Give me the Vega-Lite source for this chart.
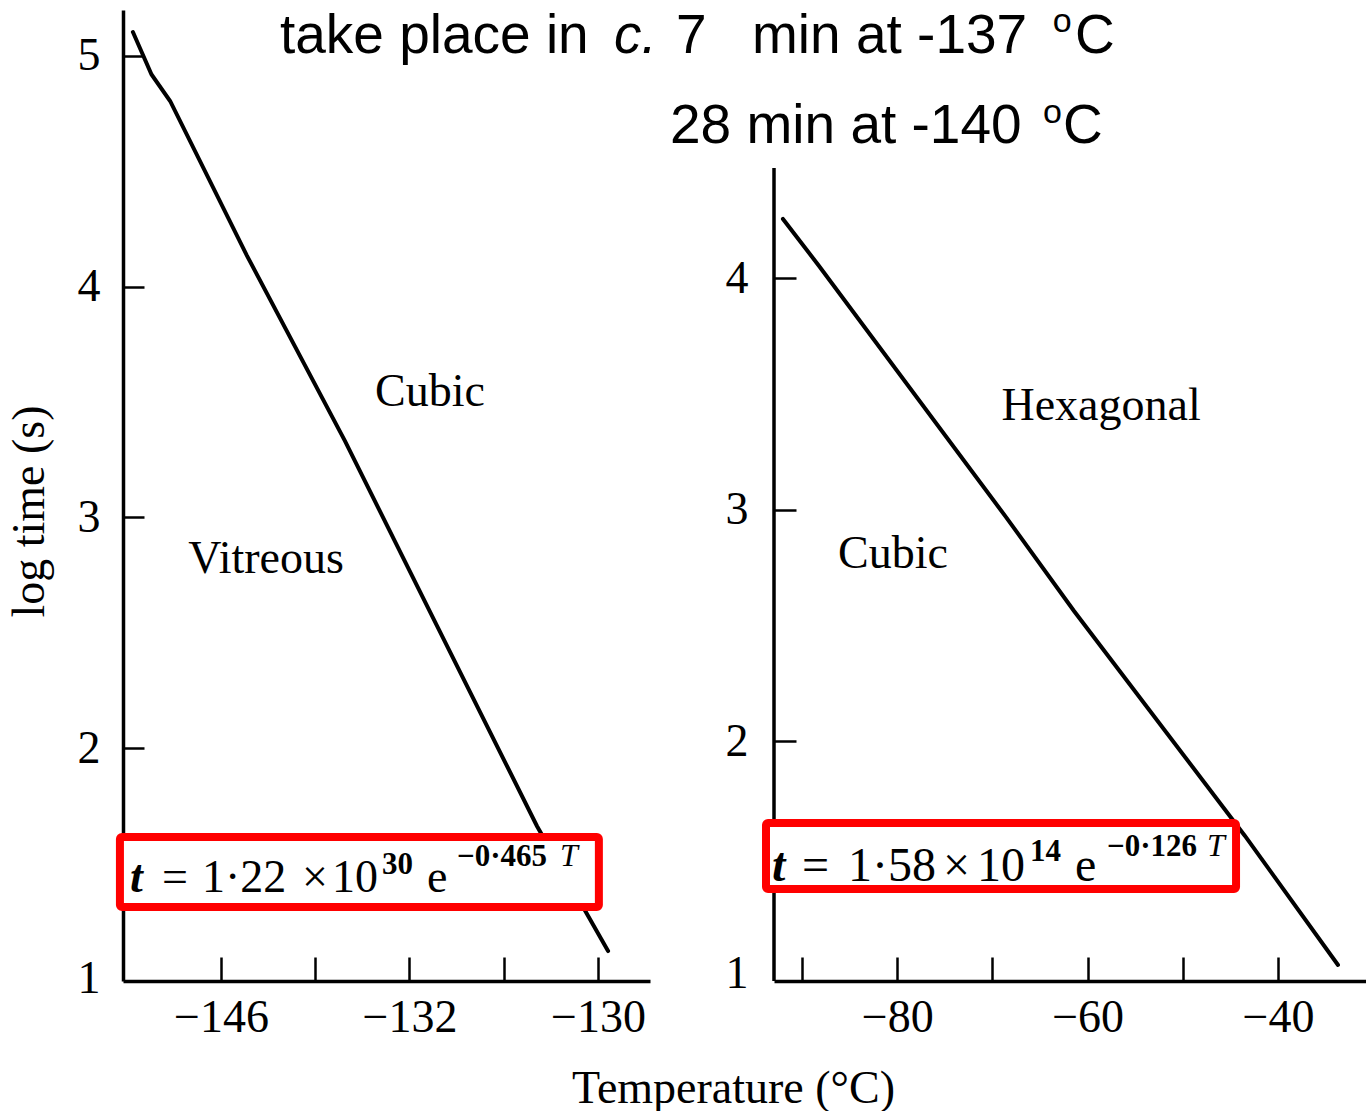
{
  "$schema": "https://vega.github.io/schema/vega-lite/v6.json",
  "background": "white",
  "padding": {"left": 6, "top": 4, "right": 0, "bottom": 0},
  "bounds": "flush",
  "spacing": 124,
  "config": {
    "view": {"stroke": null},
    "axis": {
      "grid": false,
      "labelFont": "Liberation Serif",
      "labelFontSize": 46,
      "labelColor": "black",
      "labelFlush": false,
      "labelOverlap": false,
      "domainColor": "black",
      "domainWidth": 3.5,
      "tickColor": "black",
      "tickWidth": 2.5,
      "titleFont": "Liberation Serif",
      "titleFontSize": 46,
      "titleFontWeight": "normal",
      "titleColor": "black"
    }
  },
  "datasets": {
    "leftLine": [
      {"T": -149.74, "v": 5.104},
      {"T": -148.95, "v": 4.92},
      {"T": -148.16, "v": 4.805},
      {"T": -144.90, "v": 4.135},
      {"T": -140.74, "v": 3.332},
      {"T": -136.83, "v": 2.530},
      {"T": -132.59, "v": 1.663},
      {"T": -129.57, "v": 1.121}
    ],
    "rightLine": [
      {"T": -92.0, "v": 4.255},
      {"T": -88.21, "v": 4.052},
      {"T": -68.57, "v": 2.968},
      {"T": -61.43, "v": 2.563},
      {"T": -43.47, "v": 1.592},
      {"T": -33.70, "v": 1.035}
    ],
    "leftBox": [{"x1": -150.29, "x2": -129.96, "y1": 1.312, "y2": 1.615}],
    "rightBox": [{"x1": -93.78, "x2": -44.41, "y1": 1.363, "y2": 1.648}],
    "leftRegions": [
      {"T": -137.13, "v": 3.483, "label": "Cubic"},
      {"T": -144.09, "v": 2.760, "label": "Vitreous"}
    ],
    "rightRegions": [
      {"T": -58.59, "v": 3.387, "label": "Hexagonal"},
      {"T": -80.44, "v": 2.748, "label": "Cubic"}
    ],
    "leftFormula": [
      {"T": -148.50, "v": 1.378, "label": "="},
      {"T": -146.81, "v": 1.378, "label": "1·22"},
      {"T": -142.56, "v": 1.378, "label": "×"},
      {"T": -141.29, "v": 1.378, "label": "10"},
      {"T": -137.26, "v": 1.378, "label": "e"}
    ],
    "leftFormulaItalic": [{"T": -149.86, "v": 1.378, "label": "t"}],
    "leftFormulaSup": [
      {"T": -139.17, "v": 1.455, "label": "30"},
      {"T": -135.98, "v": 1.490, "label": "−0·465"}
    ],
    "leftFormulaSupItalic": [{"T": -131.61, "v": 1.490, "label": "T"}],
    "rightFormula": [
      {"T": -90.0, "v": 1.397, "label": "="},
      {"T": -85.17, "v": 1.397, "label": "1·58"},
      {"T": -75.19, "v": 1.397, "label": "×"},
      {"T": -71.62, "v": 1.397, "label": "10"},
      {"T": -61.32, "v": 1.397, "label": "e"}
    ],
    "rightFormulaItalic": [{"T": -93.15, "v": 1.397, "label": "t"}],
    "rightFormulaSup": [
      {"T": -66.05, "v": 1.484, "label": "14"},
      {"T": -57.96, "v": 1.505, "label": "−0·126"}
    ],
    "rightFormulaSupItalic": [{"T": -47.46, "v": 1.505, "label": "T"}],
    "topText": [
      {"T": -143.50, "v": 5.013, "label": "take place in"},
      {"T": -126.69, "v": 5.013, "label": "7"},
      {"T": -123.46, "v": 5.013, "label": "min at -137"},
      {"T": -109.75, "v": 5.013, "label": "C"},
      {"T": -126.94, "v": 4.623, "label": "28 min at -140"},
      {"T": -110.26, "v": 4.623, "label": "C"}
    ],
    "topItalic": [{"T": -129.32, "v": 5.013, "label": "c."}],
    "topSup": [
      {"T": -110.69, "v": 5.104, "label": "o"},
      {"T": -111.11, "v": 4.710, "label": "o"}
    ]
  },
  "hconcat": [
    {
      "width": 527,
      "height": 971,
      "layer": [
        {
          "data": {"name": "leftLine"},
          "mark": {"type": "line", "color": "black", "strokeWidth": 4, "strokeCap": "round"},
          "encoding": {
            "x": {
              "field": "T", "type": "quantitative",
              "scale": {"domain": [-150.16, -127.79], "nice": false, "zero": false},
              "axis": {
                "values": [-146, -142, -138, -134, -130],
                "labelExpr": "datum.value == -146 ? '−146' : datum.value == -138 ? '−132' : datum.value == -130 ? '−130' : ''",
                "tickSize": -24,
                "labelPadding": 38,
                "labelBaseline": "top",
                "title": "Temperature (°C)",
                "titleX": 610,
                "titleY": 121,
                "titleAngle": 0,
                "titleAlign": "center",
                "titleBaseline": "alphabetic"
              }
            },
            "y": {
              "field": "v", "type": "quantitative",
              "scale": {"domain": [0.9913, 5.1993], "nice": false, "zero": false},
              "axis": {
                "values": [1, 2, 3, 4, 5],
                "format": "d",
                "tickSize": -21,
                "tickOpacity": {"condition": {"test": "datum.value == 1", "value": 0}, "value": 1},
                "labelPadding": 44,
                "labelAlign": "right",
                "labelBaseline": "middle",
                "title": "log time (s)",
                "titleX": -94,
                "titleY": 501,
                "titleAngle": 270,
                "titleAlign": "center",
                "titleBaseline": "middle"
              }
            }
          }
        },
        {
          "data": {"name": "leftBox"},
          "mark": {"type": "rect", "fill": "white", "stroke": "#ff0000", "strokeWidth": 8, "cornerRadius": 2},
          "encoding": {
            "x": {"field": "x1", "type": "quantitative"},
            "x2": {"field": "x2"},
            "y": {"field": "y1", "type": "quantitative"},
            "y2": {"field": "y2"}
          }
        },
        {
          "data": {"name": "leftRegions"},
          "mark": {"type": "text", "font": "Liberation Serif", "fontSize": 46, "align": "center", "baseline": "alphabetic", "color": "black"},
          "encoding": {
            "x": {"field": "T", "type": "quantitative"},
            "y": {"field": "v", "type": "quantitative"},
            "text": {"field": "label"}
          }
        },
        {
          "data": {"name": "leftFormula"},
          "mark": {"type": "text", "font": "Liberation Serif", "fontSize": 46, "align": "left", "baseline": "alphabetic", "color": "black"},
          "encoding": {
            "x": {"field": "T", "type": "quantitative"},
            "y": {"field": "v", "type": "quantitative"},
            "text": {"field": "label"}
          }
        },
        {
          "data": {"name": "leftFormulaItalic"},
          "mark": {"type": "text", "font": "Liberation Serif", "fontSize": 46, "fontStyle": "italic", "fontWeight": "bold", "align": "left", "baseline": "alphabetic", "color": "black"},
          "encoding": {
            "x": {"field": "T", "type": "quantitative"},
            "y": {"field": "v", "type": "quantitative"},
            "text": {"field": "label"}
          }
        },
        {
          "data": {"name": "leftFormulaSup"},
          "mark": {"type": "text", "font": "Liberation Serif", "fontSize": 31, "fontWeight": "bold", "align": "left", "baseline": "alphabetic", "color": "black"},
          "encoding": {
            "x": {"field": "T", "type": "quantitative"},
            "y": {"field": "v", "type": "quantitative"},
            "text": {"field": "label"}
          }
        },
        {
          "data": {"name": "leftFormulaSupItalic"},
          "mark": {"type": "text", "font": "Liberation Serif", "fontSize": 32, "fontStyle": "italic", "align": "left", "baseline": "alphabetic", "color": "black"},
          "encoding": {
            "x": {"field": "T", "type": "quantitative"},
            "y": {"field": "v", "type": "quantitative"},
            "text": {"field": "label"}
          }
        },
        {
          "data": {"name": "topText"},
          "mark": {"type": "text", "font": "Liberation Sans", "fontSize": 55, "align": "left", "baseline": "alphabetic", "color": "black"},
          "encoding": {
            "x": {"field": "T", "type": "quantitative"},
            "y": {"field": "v", "type": "quantitative"},
            "text": {"field": "label"}
          }
        },
        {
          "data": {"name": "topItalic"},
          "mark": {"type": "text", "font": "Liberation Sans", "fontSize": 55, "fontStyle": "italic", "align": "left", "baseline": "alphabetic", "color": "black"},
          "encoding": {
            "x": {"field": "T", "type": "quantitative"},
            "y": {"field": "v", "type": "quantitative"},
            "text": {"field": "label"}
          }
        },
        {
          "data": {"name": "topSup"},
          "mark": {"type": "text", "font": "Liberation Sans", "fontSize": 34, "align": "left", "baseline": "alphabetic", "color": "black"},
          "encoding": {
            "x": {"field": "T", "type": "quantitative"},
            "y": {"field": "v", "type": "quantitative"},
            "text": {"field": "label"}
          }
        }
      ]
    },
    {
      "width": 592,
      "height": 971,
      "layer": [
        {
          "data": {"name": "rightLine"},
          "mark": {"type": "line", "color": "black", "strokeWidth": 4, "strokeCap": "round"},
          "encoding": {
            "x": {
              "field": "T", "type": "quantitative",
              "scale": {"domain": [-92.94, -30.76], "nice": false, "zero": false},
              "axis": {
                "values": [-90, -80, -70, -60, -50, -40],
                "labelExpr": "datum.value % 20 == 0 ? datum.label : ''",
                "tickSize": -24,
                "labelPadding": 38,
                "labelBaseline": "top",
                "title": null
              }
            },
            "y": {
              "field": "v", "type": "quantitative",
              "scale": {"domain": [0.9659, 5.1567], "nice": false, "zero": false},
              "axis": {
                "values": [1, 2, 3, 4],
                "format": "d",
                "domain": false,
                "tickSize": -22,
                "tickOpacity": {"condition": {"test": "datum.value == 1", "value": 0}, "value": 1},
                "labelPadding": 48,
                "labelAlign": "right",
                "labelBaseline": "middle",
                "title": null
              }
            }
          }
        },
        {
          "data": {"values": [{}]},
          "mark": {"type": "rule", "color": "black", "strokeWidth": 3.5},
          "encoding": {
            "x": {"datum": -92.94, "type": "quantitative"},
            "y": {"datum": 0.9659, "type": "quantitative"},
            "y2": {"datum": 4.4747}
          }
        },
        {
          "data": {"name": "rightBox"},
          "mark": {"type": "rect", "fill": "white", "stroke": "#ff0000", "strokeWidth": 8, "cornerRadius": 2},
          "encoding": {
            "x": {"field": "x1", "type": "quantitative"},
            "x2": {"field": "x2"},
            "y": {"field": "y1", "type": "quantitative"},
            "y2": {"field": "y2"}
          }
        },
        {
          "data": {"name": "rightRegions"},
          "mark": {"type": "text", "font": "Liberation Serif", "fontSize": 46, "align": "center", "baseline": "alphabetic", "color": "black"},
          "encoding": {
            "x": {"field": "T", "type": "quantitative"},
            "y": {"field": "v", "type": "quantitative"},
            "text": {"field": "label"}
          }
        },
        {
          "data": {"name": "rightFormula"},
          "mark": {"type": "text", "font": "Liberation Serif", "fontSize": 48, "align": "left", "baseline": "alphabetic", "color": "black"},
          "encoding": {
            "x": {"field": "T", "type": "quantitative"},
            "y": {"field": "v", "type": "quantitative"},
            "text": {"field": "label"}
          }
        },
        {
          "data": {"name": "rightFormulaItalic"},
          "mark": {"type": "text", "font": "Liberation Serif", "fontSize": 48, "fontStyle": "italic", "fontWeight": "bold", "align": "left", "baseline": "alphabetic", "color": "black"},
          "encoding": {
            "x": {"field": "T", "type": "quantitative"},
            "y": {"field": "v", "type": "quantitative"},
            "text": {"field": "label"}
          }
        },
        {
          "data": {"name": "rightFormulaSup"},
          "mark": {"type": "text", "font": "Liberation Serif", "fontSize": 31, "fontWeight": "bold", "align": "left", "baseline": "alphabetic", "color": "black"},
          "encoding": {
            "x": {"field": "T", "type": "quantitative"},
            "y": {"field": "v", "type": "quantitative"},
            "text": {"field": "label"}
          }
        },
        {
          "data": {"name": "rightFormulaSupItalic"},
          "mark": {"type": "text", "font": "Liberation Serif", "fontSize": 32, "fontStyle": "italic", "align": "left", "baseline": "alphabetic", "color": "black"},
          "encoding": {
            "x": {"field": "T", "type": "quantitative"},
            "y": {"field": "v", "type": "quantitative"},
            "text": {"field": "label"}
          }
        }
      ]
    }
  ]
}
